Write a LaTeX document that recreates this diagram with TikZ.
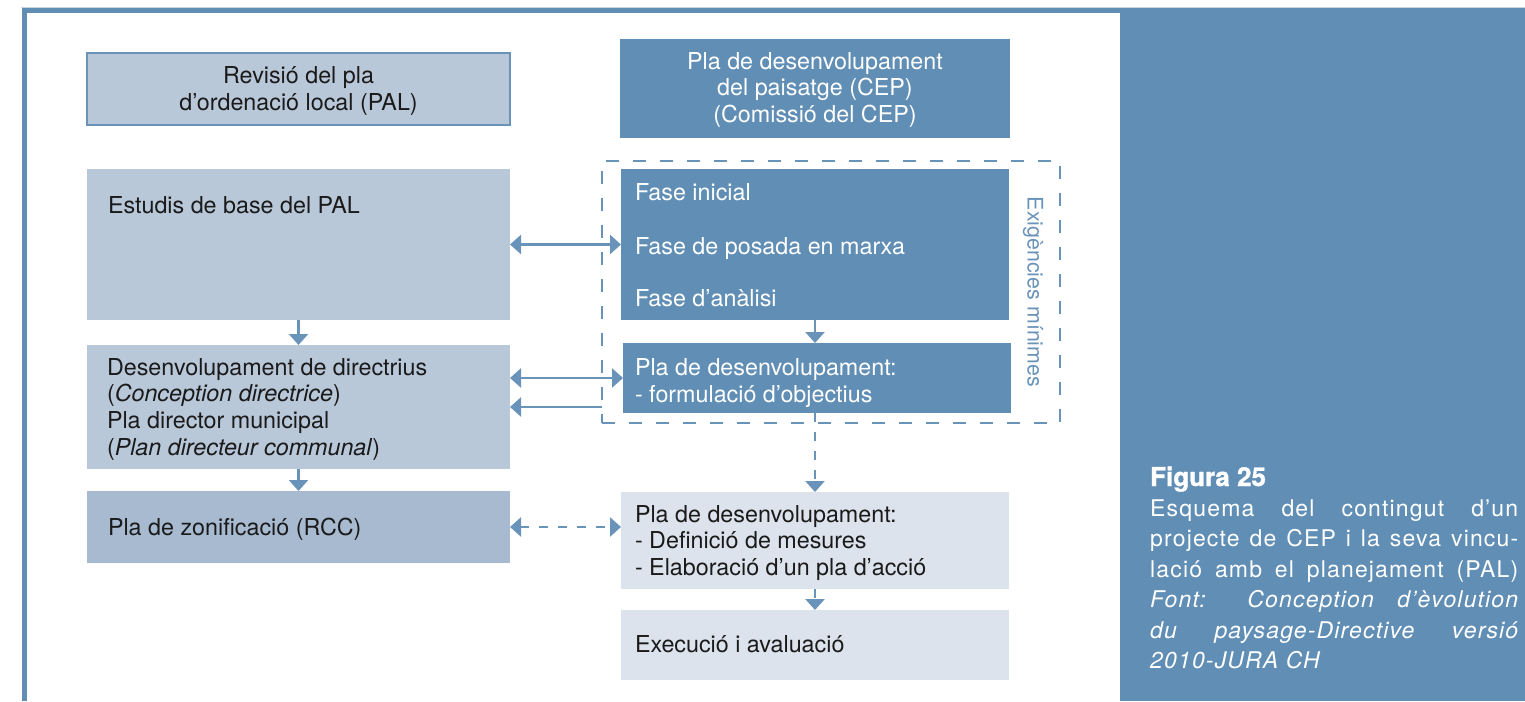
\documentclass[tikz,border=0pt]{standalone}
\usepackage{fontspec}
\setmainfont{TeX Gyre Heros}
\newfontfamily\capfont[LetterSpace=5]{TeX Gyre Heros}
\usetikzlibrary{arrows.meta}
\definecolor{dblue}{RGB}{96,142,181}
\definecolor{lbox}{RGB}{185,200,217}
\definecolor{mbox}{RGB}{167,186,208}
\definecolor{pbox}{RGB}{220,227,236}
\definecolor{acol}{RGB}{106,147,186}
\definecolor{txt}{RGB}{26,26,26}
\definecolor{edge}{RGB}{200,212,224}
\begin{document}
\begin{tikzpicture}[x=1pt,y=-1pt,
  box/.style={draw=none, inner sep=0pt, outer sep=0pt, anchor=north west},
  arr/.style={draw=acol, line width=2.5pt, -{Triangle[length=11pt,width=19pt]}},
  darr/.style={draw=acol, line width=2.5pt, {Triangle[length=11pt,width=19pt]}-{Triangle[length=11pt,width=19pt]}},
  dsh/.style={dash pattern=on 9pt off 10pt},
  tx/.style={inner sep=0pt, outer sep=0pt, text=txt, font=\fontsize{23.3}{26.7}\selectfont},
  wtx/.style={tx, text=white},
]
\useasboundingbox (0,0) rectangle (1525,701);
\fill[white] (0,0) rectangle (1525,701);
% frame
\fill[edge] (21,7.5) rectangle (1525,8.5);
\fill[dblue] (22,8) rectangle (1120,13.5);
\fill[dblue] (22,8) rectangle (27,701);
\node[box, fill=dblue, minimum width=405pt, minimum height=693pt] (panel) at (1120,8) {};

% boxes
\node[box, fill=lbox, draw=acol, line width=1.5pt, minimum width=423pt, minimum height=72pt] (rev) at (87,53) {};
\node[box, fill=dblue, minimum width=390pt, minimum height=99pt] (cep) at (620,39) {};
\node[box, fill=lbox, minimum width=423pt, minimum height=151pt] (est) at (87,169) {};
\node[box, fill=dblue, minimum width=388pt, minimum height=151pt] (fase) at (621,169) {};
\node[box, fill=dblue, minimum width=388pt, minimum height=70pt] (pla1) at (623,343) {};
\node[box, fill=lbox, minimum width=423pt, minimum height=124pt] (dir) at (87,345) {};
\node[box, fill=mbox, minimum width=423pt, minimum height=72pt] (zon) at (87,491) {};
\node[box, fill=pbox, minimum width=388pt, minimum height=97pt] (pla2) at (621,492) {};
\node[box, fill=pbox, minimum width=388pt, minimum height=70pt] (exe) at (621,610) {};
\node[box, draw=acol, line width=2.5pt, dash pattern=on 13pt off 14pt, minimum width=458pt, minimum height=262pt] (dbox) at (602,161) {};

% texts
\node[tx, anchor=base] (trev) at (298.5,84) {\parbox[t]{420pt}{\centering Revisió del pla\\ d’ordenació local (PAL)}};
\node[wtx, anchor=base] (tcep) at (815,69.3) {\parbox[t]{388pt}{\centering Pla de desenvolupament\\ del paisatge (CEP)\\ (Comissió del CEP)}};
\node[tx, anchor=base west] (test) at (108,213) {Estudis de base del PAL};
\node[wtx, anchor=base west] (tf1) at (635,200) {Fase inicial};
\node[wtx, anchor=base west] (tf2) at (635,254) {Fase de posada en marxa};
\node[wtx, anchor=base west] (tf3) at (635,306.7) {Fase d’anàlisi};
\node[wtx, anchor=base west] (tpla1) at (635,375.7) {\parbox[t]{370pt}{\raggedright Pla de desenvolupament:\\ - formulació d’objectius}};
\node[tx, anchor=base west] (tdir) at (107,375) {\parbox[t]{400pt}{\raggedright Desenvolupament de directrius\\ (\textit{Conception directrice})\\ Pla director municipal\\ (\textit{Plan directeur communal})}};
\node[tx, anchor=base west] (tzon) at (108,535) {Pla de zonificació (RCC)};
\node[tx, anchor=base west] (tpla2) at (635,522) {\parbox[t]{370pt}{\raggedright Pla de desenvolupament:\\ - Definició de mesures\\ - Elaboració d’un pla d’acció}};
\node[tx, anchor=base west] (texe) at (635,652.3) {Execució i avaluació};
\node[inner sep=0pt, rotate=-90, text=acol, font=\fontsize{21.4}{24}\selectfont] (exig) at (1033,292) {Exigències mínimes};

% caption
\node[inner sep=0pt, anchor=base west, text=white] (cap) at (1150,486) {\parbox[t]{368pt}{\capfont\fontsize{23}{30.4}\selectfont
{\normalfont\fontsize{26}{30.4}\selectfont\bfseries\addfontfeatures{FakeBold=1.2}Figura 25}\\
\makebox[368pt][s]{Esquema del contingut d’un}\\
\makebox[368pt][s]{projecte de CEP i la seva vincu-}\\
\makebox[368pt][s]{lació amb el planejament (PAL)}\\
\itshape\makebox[368pt][s]{Font: Conception d’èvolution}\\
\makebox[368pt][s]{du paysage-Directive versió}\\
2010-JURA CH}};

% connectors
\draw[darr] (est.east) -- (fase.west);
\draw[darr] (dir.east |- pla1.west) -- (pla1.west);
\draw[arr] (dir.east -| dbox.west) -- (dir.east);
\draw[darr, dsh] (zon.east) -- (pla2.west |- zon.east);
\draw[arr] (est.south) -- (dir.north);
\draw[arr] (dir.south) -- (zon.north);
\draw[arr] (fase.south) -- (fase.south |- pla1.north);
\draw[arr, dsh] (pla1.south -| pla2.north) -- (pla2.north);
\draw[arr, dsh] (pla2.south) -- (exe.north);
\end{tikzpicture}
\end{document}
